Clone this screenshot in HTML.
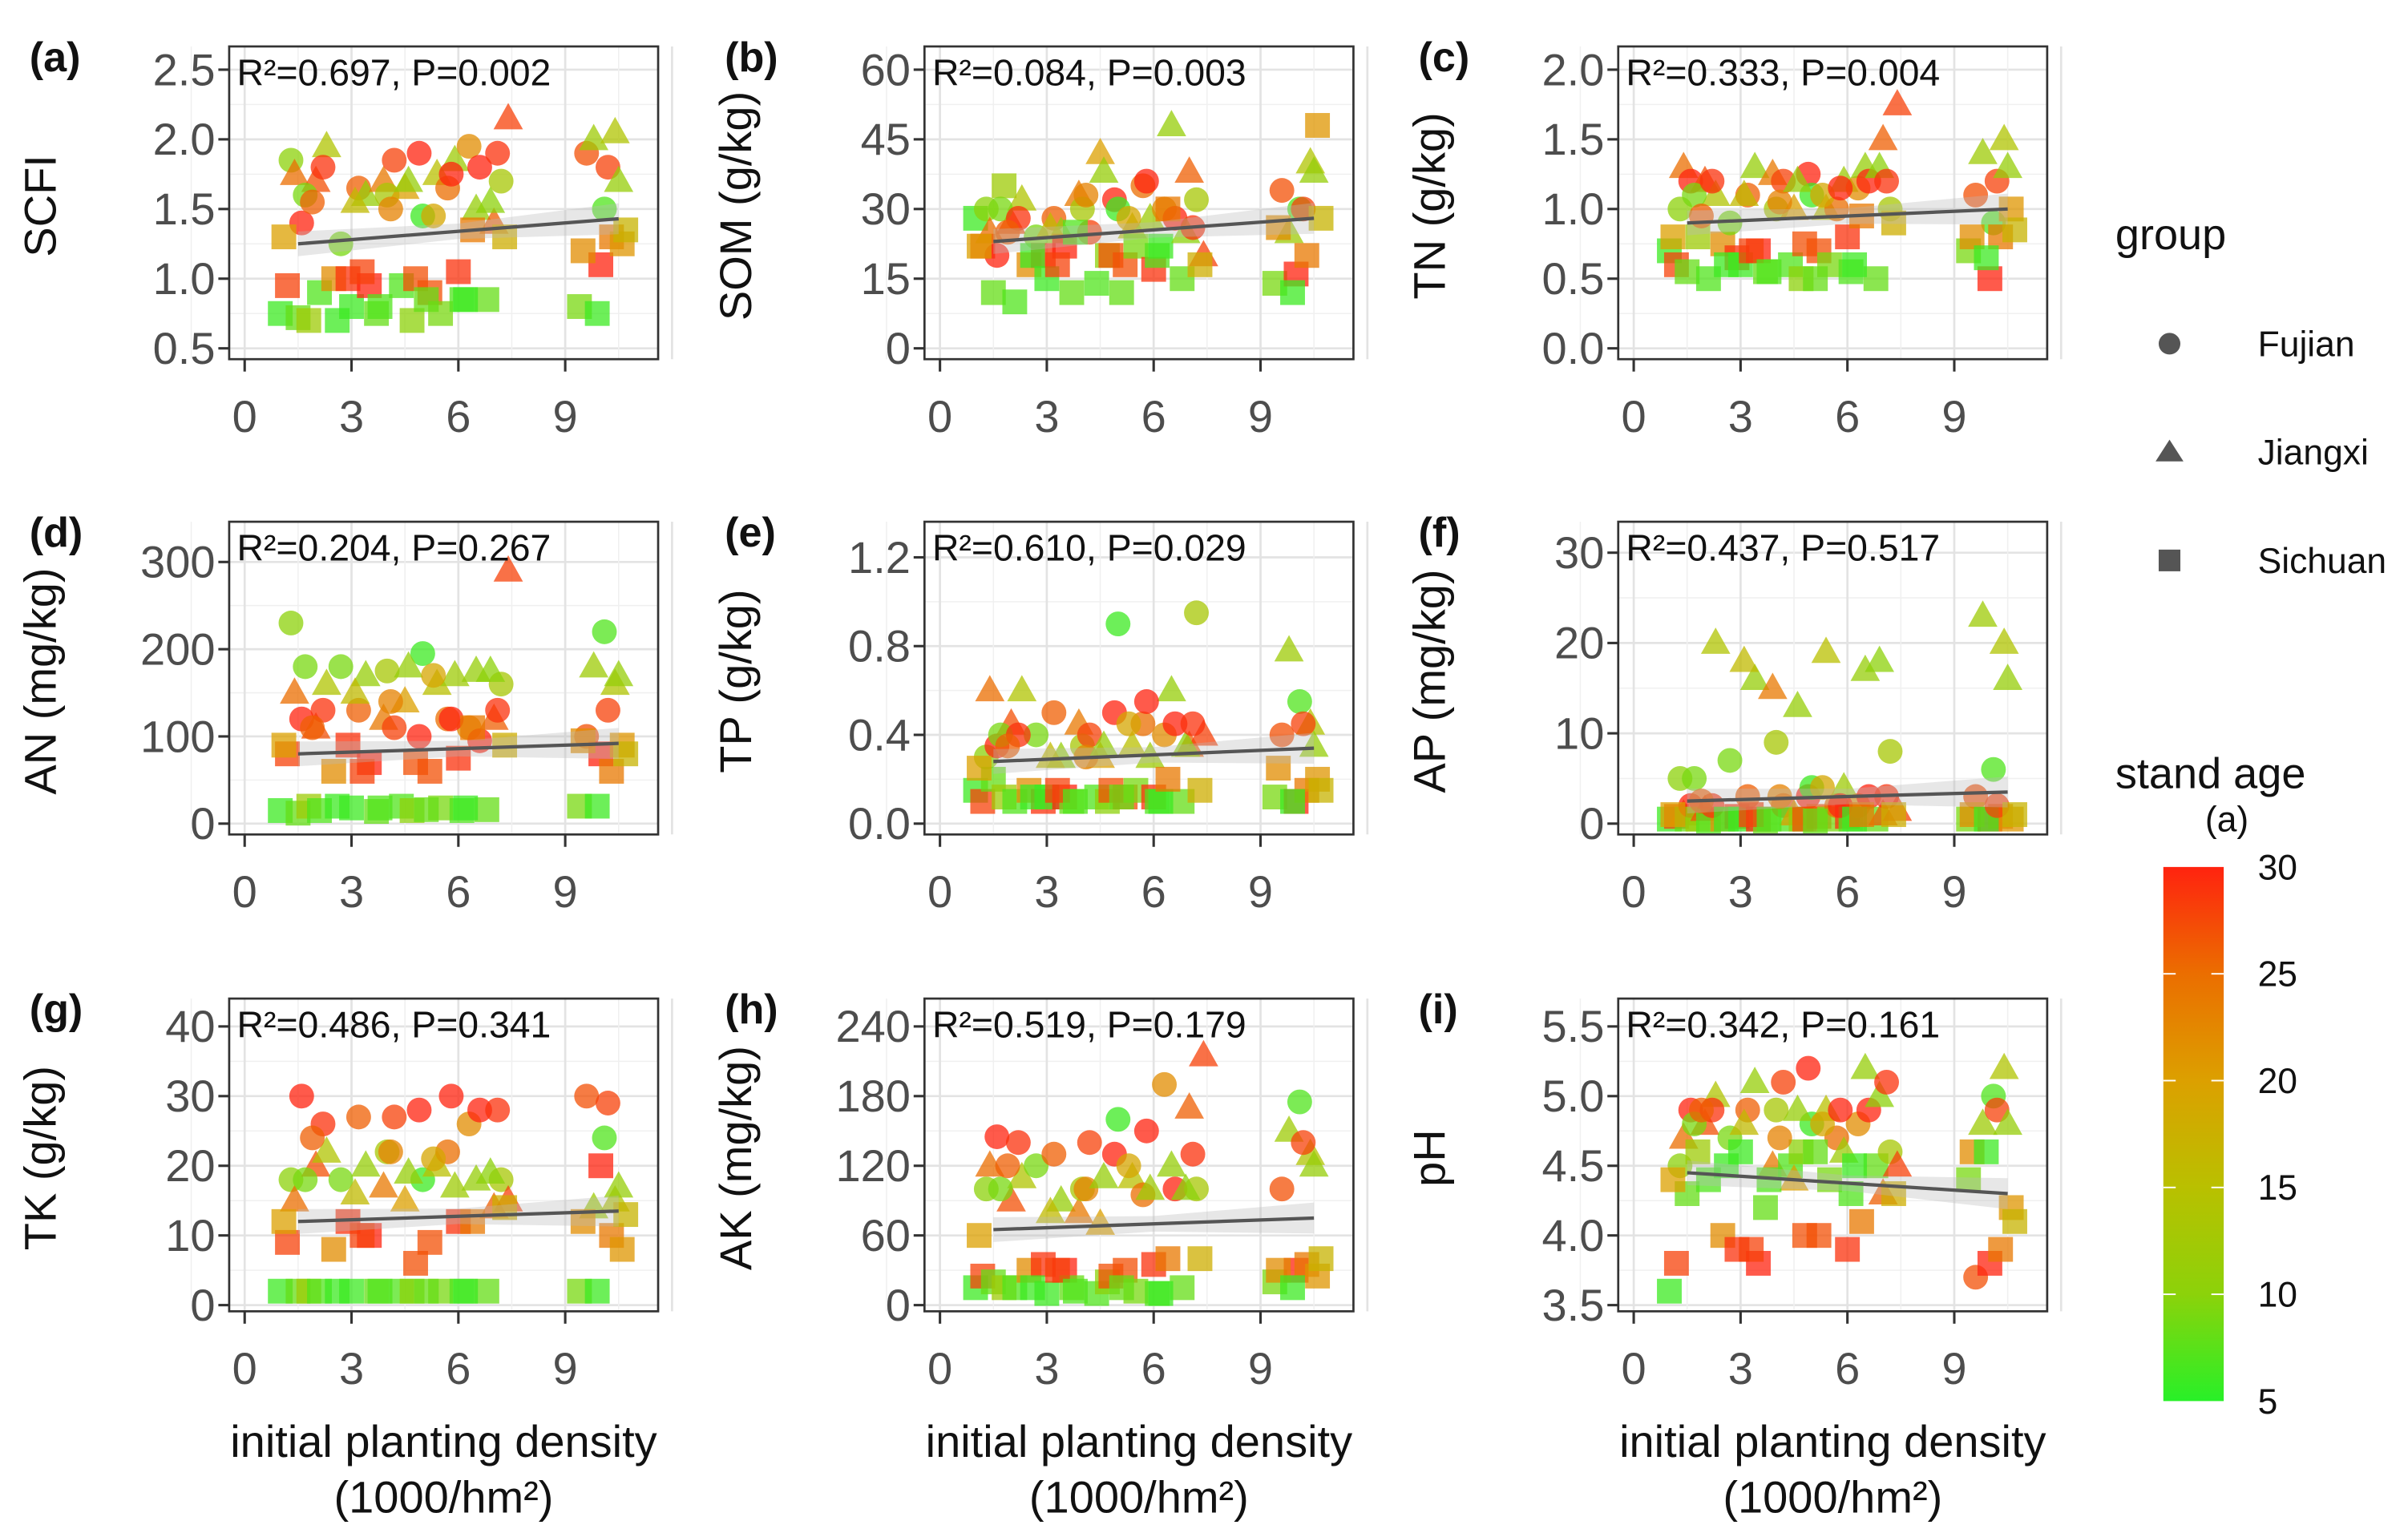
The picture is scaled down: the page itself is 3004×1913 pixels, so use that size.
<!DOCTYPE html>
<html><head><meta charset="utf-8"><style>
html,body{margin:0;padding:0;background:#fff;}
svg{display:block;font-family:"Liberation Sans",sans-serif;}
</style></head><body>
<svg id="fig" width="3004" height="1913" viewBox="0 0 1555 990.2" preserveAspectRatio="none" xmlns="http://www.w3.org/2000/svg"></svg>
<script>
// shared sample data
const densityX = [1.0,1.2,1.3,1.4,1.5,1.6,1.8,2.0,2.1,2.3,2.5,2.7,2.9,3.0,3.2,3.4,3.5,3.7,3.9,4.0,4.2,4.4,4.5,4.7,4.9,5.0,5.2,5.4,5.5,5.7,5.9,6.0,6.1,6.3,6.5,6.6,6.8,7.0,7.2,7.4,9.4,9.6,9.8,10.0,10.1,10.3,10.4,10.6,
  1.1,1.7,2.2,2.6,3.1,3.3,3.8,4.1,4.6,4.8,5.1,5.3,5.8,6.2,6.4,6.9,7.1,7.3,9.5,9.9,10.2,10.5,10.7,1.9];
const standAge = [6,28,10,25,8,30,12,27,7,14,22,9,29,6,26,11,30,8,24,13,28,7,20,10,30,6,27,15,9,25,12,29,7,22,11,30,8,26,13,28,9,27,12,30,7,24,14,21,
  20,9,29,6,16,28,7,23,11,27,8,19,30,6,24,10,29,18,22,6,28,11,17,26];
const groupCode = ["S","S","F","J","S","F","S","J","S","J","S","F","S","S","F","J","S","S","J","F","F","S","J","S","F","F","S","J","S","F","J","S","S","F","J","F","S","J","F","J","S","F","J","S","F","S","J","S",
  "S","F","F","S","J","S","S","F","J","S","S","F","F","S","S","J","F","S","S","S","F","J","S","F"];
// per-panel values
const scfiVals = [0.75,0.95,1.85,1.75,0.72,1.4,0.7,1.7,0.9,1.95,1.0,1.25,1.0,0.8,1.65,1.6,0.95,0.75,1.7,1.6,1.85,0.95,1.65,0.7,1.9,1.45,0.9,1.75,0.75,1.65,1.85,1.05,0.85,1.95,1.5,1.8,0.85,1.4,1.7,2.15,0.8,1.9,2.0,1.1,1.5,1.3,2.05,1.25,
  1.3,1.6,1.8,0.7,1.55,1.05,0.8,1.5,1.7,1.0,0.85,1.45,1.75,0.85,1.35,1.55,1.9,1.3,1.2,0.75,1.8,1.7,1.35,1.55];
const somVals = [28,22,30,25,12,20,35,27,10,32,18,24,20,15,28,25,22,12,33,30,25,14,42,20,32,30,18,26,22,35,28,17,20,30,48,28,15,38,32,20,14,34,25,16,30,20,40,48,
  22,30,28,20,26,18,25,33,38,20,12,28,36,22,30,25,26,18,26,12,30,38,28,25];
const tnVals = [0.7,0.6,1.0,1.3,0.55,1.2,0.8,1.2,0.5,1.1,0.75,0.9,0.65,0.6,1.1,1.3,0.7,0.55,1.25,1.0,1.2,0.6,1.0,0.5,1.25,1.1,0.7,1.0,0.6,1.0,1.2,0.8,0.55,1.15,1.3,1.2,0.5,1.5,1.0,1.75,0.7,1.1,1.4,0.5,0.9,0.8,1.5,1.0,
  0.8,1.1,1.2,0.6,1.1,0.7,0.55,1.05,1.2,0.75,0.5,1.1,1.15,0.6,0.95,1.3,1.2,0.9,0.8,0.65,1.2,1.3,0.85,0.95];
const anVals = [15,80,230,150,12,120,20,110,15,160,60,180,90,18,130,170,70,14,120,175,110,20,140,15,100,195,60,160,18,120,170,75,15,110,175,95,16,120,160,290,20,100,180,80,220,60,160,90,
  90,180,130,20,150,60,18,140,180,70,16,170,120,18,110,175,130,90,95,20,130,170,80,110];
const tpVals = [0.15,0.1,0.3,0.6,0.2,0.35,0.12,0.45,0.1,0.6,0.15,0.4,0.1,0.12,0.5,0.3,0.12,0.1,0.45,0.35,0.4,0.12,0.3,0.1,0.5,0.9,0.12,0.35,0.15,0.45,0.3,0.12,0.1,0.4,0.6,0.45,0.1,0.35,0.95,0.4,0.12,0.4,0.78,0.1,0.55,0.15,0.45,0.2,
  0.25,0.4,0.4,0.12,0.3,0.15,0.1,0.3,0.35,0.15,0.12,0.45,0.55,0.1,0.2,0.35,0.45,0.15,0.25,0.1,0.45,0.35,0.15,0.35];
const apVals = [0.5,0.8,5,1,0.5,2,0.5,1.5,0.3,20,0.5,7,0.8,0.5,3,16,0.5,0.3,15,9,2,0.5,1,0.5,3,4,0.8,19,0.5,2,4,0.8,0.5,2,17,3,0.5,1,8,1.5,0.5,3,23,0.5,6,0.8,20,0.5,
  1,5,2,0.5,18,1,0.5,3,13,0.5,0.3,4,2,0.5,1,18,3,1,1,0.5,2,16,1,2.5];
const tkVals = [2,9,18,15,2,30,2,20,2,22,8,18,12,2,27,20,10,2,17,22,27,2,15,2,28,18,9,20,2,22,17,12,2,26,18,28,2,14,18,15,2,30,14,20,24,10,15,8,
  12,18,26,2,16,10,2,22,19,6,2,21,30,2,12,19,28,14,12,2,29,17,13,24];
const akVals = [15,25,100,120,20,145,15,90,15,110,30,120,35,10,130,90,30,15,80,100,140,10,70,20,130,160,30,110,12,95,100,35,10,190,120,100,15,170,100,215,20,100,150,30,175,35,130,25,
  60,100,140,15,80,30,12,100,110,25,15,120,150,10,40,100,130,40,30,15,140,120,40,120];
const phVals = [3.6,3.8,4.5,4.7,4.3,4.9,4.6,4.8,4.4,5.0,4.0,4.7,3.9,4.6,4.9,5.1,3.8,4.2,4.5,4.9,5.1,4.5,4.4,4.6,5.2,4.8,4.0,4.9,4.4,4.7,4.6,3.9,4.3,4.8,5.2,4.9,4.5,4.3,4.6,4.5,4.4,3.7,4.8,3.8,5.0,3.9,5.2,4.2,
  4.4,4.8,4.9,4.5,4.8,3.9,4.4,4.7,4.9,4.0,4.6,4.8,4.9,4.5,4.1,5.0,5.1,4.3,4.6,4.6,4.9,4.8,4.1,4.9];
const panelLetters = ["(a)","(b)","(c)","(d)","(e)","(f)","(g)","(h)","(i)"];
const yTitles = ["SCFI","SOM (g/kg)","TN (g/kg)","AN (mg/kg)","TP (g/kg)","AP (mg/kg)","TK (g/kg)","AK (mg/kg)","pH"];
const statLabels = ["R²=0.697, P=0.002","R²=0.084, P=0.003","R²=0.333, P=0.004","R²=0.204, P=0.267","R²=0.610, P=0.029","R²=0.437, P=0.517","R²=0.486, P=0.341","R²=0.519, P=0.179","R²=0.342, P=0.161"];
const yTickSets = [[0.5,1.0,1.5,2.0,2.5],[0,15,30,45,60],[0.0,0.5,1.0,1.5,2.0],[0,100,200,300],[0.0,0.4,0.8,1.2],[0,10,20,30],[0,10,20,30,40],[0,60,120,180,240],[3.5,4.0,4.5,5.0,5.5]];
const yTickLabels = [["0.5","1.0","1.5","2.0","2.5"],["0","15","30","45","60"],["0.0","0.5","1.0","1.5","2.0"],["0","100","200","300"],["0.0","0.4","0.8","1.2"],["0","10","20","30"],["0","10","20","30","40"],["0","60","120","180","240"],["3.5","4.0","4.5","5.0","5.5"]];
const fitStart = [1.25,23,0.9,80,0.28,2.5,12,65,4.45];
const fitEnd = [1.43,28,1.0,92,0.34,3.5,13.5,75,4.3];
const xTicks = [0,3,6,9];
const ageTicks = [5,10,15,20,25,30];
const groupNames = ["Fujian","Jiangxi","Sichuan"];

const panelVals = [scfiVals,somVals,tnVals,anVals,tpVals,apVals,tkVals,akVals,phVals];
const svg = document.getElementById('fig');
const NS = "http://www.w3.org/2000/svg";
function mk(tag, attrs, parent){const e=document.createElementNS(NS,tag);for(const k in attrs)e.setAttribute(k,attrs[k]);(parent||svg).appendChild(e);return e;}
function ageColor(a){
  const stops=[[5,[40,240,40]],[10,[140,210,10]],[15,[185,192,0]],[20,[220,160,0]],[25,[235,110,0]],[30,[255,35,15]]];
  for(let i=0;i<stops.length-1;i++){const[a0,c0]=stops[i],[a1,c1]=stops[i+1];if(a<=a1){const t=(a-a0)/(a1-a0);return 'rgb('+c0.map((v,j)=>Math.round(v+(c1[j]-v)*t)).join(',')+')';}}
  return 'rgb(255,35,15)';
}
const colX=[148,597,1045], rowY=[30,337,645], PW=277, PH=202;
const tickPix=[[225,45],[225,45],[225,45],[532,363],[532,360],[532,357],[843,663],[843,663],[843,663]];
for(let p=0;p<9;p++){
  const c=p%3, r=Math.floor(p/3), x0=colX[c], y0=rowY[r];
  const g=mk('g',{});
  
  
  const ts=yTickSets[p], tmin=ts[0], tmax=ts[ts.length-1];
  const [pb,pt]=tickPix[p];
  const sy=v=>pb+(v-tmin)/(tmax-tmin)*(pt-pb);
  const sx=v=>x0+10+v*23;
  mk('rect',{x:x0,y:y0,width:PW,height:PH,fill:'#fff'},g);
  const cl='clip'+p; const cp=mk('clipPath',{id:cl},g); mk('rect',{x:x0,y:y0,width:PW,height:PH},cp);
  for(let i=0;i<ts.length;i++){ mk('line',{x1:x0,x2:x0+PW,y1:sy(ts[i]),y2:sy(ts[i]),stroke:'#e3e3e3','stroke-width':1.4},g);
    if(i<ts.length-1){const m=(ts[i]+ts[i+1])/2;mk('line',{x1:x0,x2:x0+PW,y1:sy(m),y2:sy(m),stroke:'#f0f0f0','stroke-width':0.8},g);} }
  for(let v=-1.5;v<=12;v+=1.5){ mk('line',{x1:sx(v),x2:sx(v),y1:y0,y2:y0+PH,stroke:(v%3===0)?'#e3e3e3':'#f0f0f0','stroke-width':(v%3===0)?1.4:0.8},g);}
  const pg=mk('g',{'clip-path':'url(#'+cl+')'},g);
  const vals=panelVals[p];
  for(let i=0;i<vals.length;i++){
    const px=sx(densityX[i]), py=sy(vals[i]), col=ageColor(standAge[i]);
    let e;
    if(groupCode[i]==='F') e=mk('circle',{cx:px,cy:py,r:8,fill:col,'fill-opacity':0.75},pg);
    else if(groupCode[i]==='J') e=mk('polygon',{points:`${px},${py-10} ${px-9.5},${py+7} ${px+9.5},${py+7}`,fill:col,'fill-opacity':0.75},pg);
    else e=mk('rect',{x:px-8,y:py-8,width:16,height:16,fill:col,'fill-opacity':0.75},pg);
    
    
  }
  const fx1=sx(1.5), fx2=sx(10.5), fy1=sy(fitStart[p]), fy2=sy(fitEnd[p]);
  mk('polygon',{points:`${fx1},${fy1-8} ${(fx1+fx2)/2},${(fy1+fy2)/2-5} ${fx2},${fy2-10} ${fx2},${fy2+10} ${(fx1+fx2)/2},${(fy1+fy2)/2+5} ${fx1},${fy1+8}`,fill:'#bbb','fill-opacity':0.35},g);
  const fl=mk('line',{x1:fx1,y1:fy1,x2:fx2,y2:fy2,stroke:'#555','stroke-width':2.2},g);
  
  
  mk('rect',{x:x0,y:y0,width:PW,height:PH,fill:'none',stroke:'#333','stroke-width':1.4},g);
  for(let i=0;i<ts.length;i++){ const y=sy(ts[i]);
    mk('line',{x1:x0-7,x2:x0,y1:y,y2:y,stroke:'#333','stroke-width':1.6},g);
    const t=mk('text',{x:x0-9,y:y+10,'text-anchor':'end','font-size':29,fill:'#4d4d4d'},g); t.textContent=yTickLabels[p][i];
    
     }
  for(const v of xTicks){ const x=sx(v);
    mk('line',{x1:x,x2:x,y1:y0+PH,y2:y0+PH+8,stroke:'#333','stroke-width':1.6},g);
    const t=mk('text',{x:x,y:y0+PH+47,'text-anchor':'middle','font-size':29,fill:'#4d4d4d'},g); t.textContent=v;
    
     }
  const st=mk('text',{x:x0+5,y:y0+25,'font-size':24,fill:'#111'},g); st.textContent=statLabels[p];
  
  
  const yt=mk('text',{x:0,y:0,transform:`translate(${x0-112},${y0+PH/2+2}) rotate(-90)`,'text-anchor':'middle','font-size':29,fill:'#111'},g); yt.textContent=yTitles[p];
  
  
  const pl=mk('text',{x:x0-129,y:y0+16,'font-size':27,'font-weight':'bold',fill:'#111'},g); pl.textContent=panelLetters[p];
  
  
  if(r===2){
    const a=mk('text',{x:x0+PW/2,y:941,'text-anchor':'middle','font-size':29,fill:'#111'},g); a.textContent='initial planting density';
    
    
    const b=mk('text',{x:x0+PW/2,y:977,'text-anchor':'middle','font-size':29,fill:'#111'},g); b.textContent='(1000/hm²)';
    
    
  }
}
const lg=mk('g',{});


const gt=mk('text',{x:1366,y:161,'font-size':28,fill:'#111'},lg); gt.textContent='group';
for(let i=0;i<3;i++){ const y=222+i*70, x=1401;
  if(i===0) mk('circle',{cx:x,cy:y,r:7,fill:'#555'},lg);
  else if(i===1) mk('polygon',{points:`${x},${y-8} ${x-9},${y+6} ${x+9},${y+6}`,fill:'#555'},lg);
  else mk('rect',{x:x-7,y:y-7,width:14,height:14,fill:'#555'},lg);
  const t=mk('text',{x:1458,y:y+8,'font-size':23,fill:'#111'},lg); t.textContent=groupNames[i];
  
   }
const sa=mk('text',{x:1366,y:509,'font-size':28,fill:'#111'},lg); sa.textContent='stand age';
const su=mk('text',{x:1424,y:537,'font-size':23,fill:'#111'},lg); su.textContent='(a)';
const defs=mk('defs',{}); const grad=mk('linearGradient',{id:'ag',x1:0,y1:1,x2:0,y2:0},defs);
for(let a=5;a<=30;a+=5) mk('stop',{offset:(a-5)/25,'stop-color':ageColor(a)},grad);
const cbTop=560, cbBot=905;
const cb=mk('rect',{x:1397,y:cbTop,width:39,height:cbBot-cbTop,fill:'url(#ag)'},lg);


for(const a of ageTicks){ const y=cbBot-(a-5)/25*(cbBot-cbTop);
  if(a>5&&a<30){mk('line',{x1:1397,x2:1405,y1:y,y2:y,stroke:'#fff','stroke-width':1},lg);mk('line',{x1:1428,x2:1436,y1:y,y2:y,stroke:'#fff','stroke-width':1},lg);}
  const t=mk('text',{x:1458,y:y+8,'font-size':23,fill:'#111'},lg); t.textContent=a;
  
   }
</script>
</body></html>
